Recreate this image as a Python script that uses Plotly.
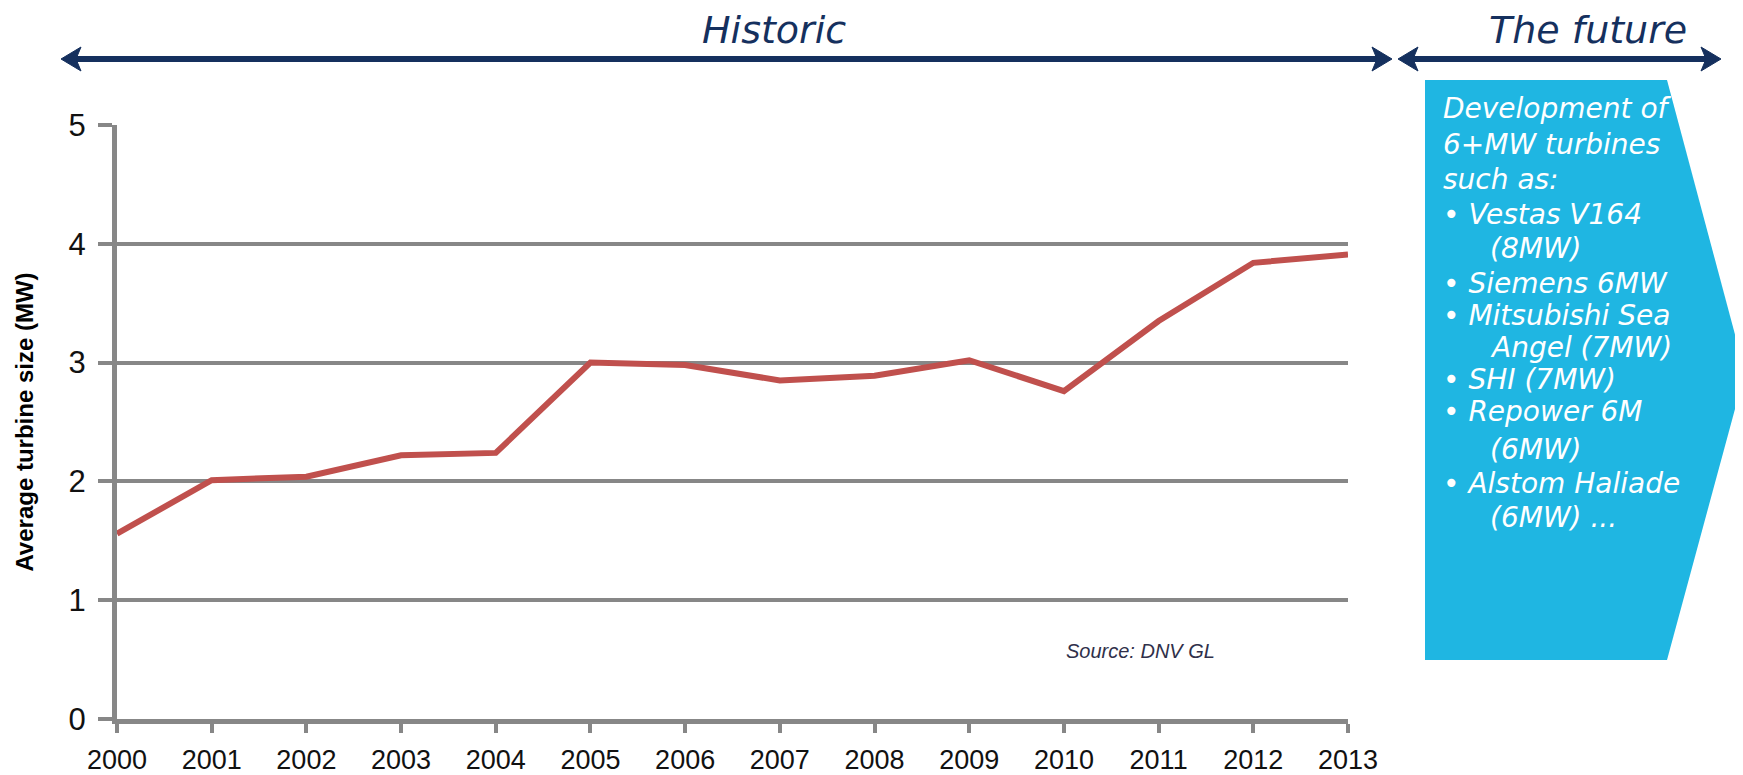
import plotly.graph_objects as go

years = list(range(2000, 2014))
avg_size_mw = [1.56, 2.01, 2.04, 2.22, 2.24, 3.00, 2.98, 2.85, 2.89, 3.02, 2.76, 3.35, 3.84, 3.91]
y_ticks = [0, 1, 2, 3, 4, 5]
box_lines = [
    "Development of",
    "6+MW turbines",
    "such as:",
    "• Vestas V164",
    "(8MW)",
    "• Siemens 6MW",
    "• Mitsubishi Sea",
    "Angel (7MW)",
    "• SHI (7MW)",
    "• Repower 6M",
    "(6MW)",
    "• Alstom Haliade",
    "(6MW) ...",
]
box_line_indented = [False, False, False, False, True, False, False, True, False, False, True, False, True]

# page offset caused by the default 8px body margin
OFF = 8
W, H = 1743 - OFF, 775 - OFF
# plot area in page pixels
L, R, T, B = 117, 1348, 125, 719


def px(x):
    return (x - L) / (R - L)


def py(y):
    return (B - y) / (B - T)


GRID = "#878787"
NAVY = "#15305E"
RED = "#C0504D"
CYAN = "#1FB6E2"

fig = go.Figure()
fig.add_trace(go.Scatter(x=years, y=avg_size_mw, mode="lines",
                         line=dict(color=RED, width=6), hoverinfo="x+y"))

shapes = []
arrow_y = 59
lw = 6


def arrow_line(x0, x1):
    shapes.append(dict(type="line", xref="paper", yref="paper",
                       x0=px(x0), x1=px(x1), y0=py(arrow_y), y1=py(arrow_y),
                       line=dict(color=NAVY, width=lw)))


def head(tip, direction):
    ln, hh, notch = 20, 12, 5
    back = tip - direction * ln
    nx = tip - direction * (ln - notch)
    path = (f"M {px(tip)},{py(arrow_y)} L {px(back)},{py(arrow_y - hh)} "
            f"L {px(nx)},{py(arrow_y)} L {px(back)},{py(arrow_y + hh)} Z")
    shapes.append(dict(type="path", xref="paper", yref="paper", path=path,
                       fillcolor=NAVY, line=dict(color=NAVY, width=1)))


arrow_line(66, 1386)
head(61, -1)
head(1392, 1)
arrow_line(1404, 1715)
head(1398, -1)
head(1721, 1)

# blue chevron box
bx0, by0, bx1, by1, tipx, tipy = 1425, 80, 1667, 660, 1745, 372
path = (f"M {px(bx0)},{py(by0)} L {px(bx1)},{py(by0)} L {px(tipx)},{py(tipy)} "
        f"L {px(bx1)},{py(by1)} L {px(bx0)},{py(by1)} Z")
shapes.append(dict(type="path", xref="paper", yref="paper", path=path,
                   fillcolor=CYAN, line=dict(width=0), layer="below"))

annotations = []
annotations.append(dict(text="<i>Historic</i>", xref="paper", yref="paper",
                        x=px(774), y=py(30), showarrow=False,
                        xanchor="center", yanchor="middle",
                        font=dict(family="DejaVu Sans", size=38, color=NAVY)))
annotations.append(dict(text="<i>The future</i>", xref="paper", yref="paper",
                        x=px(1588), y=py(30), showarrow=False,
                        xanchor="center", yanchor="middle",
                        font=dict(family="DejaVu Sans", size=38, color=NAVY)))

line_y = [109, 145, 180, 214, 248, 283, 315, 347, 379, 411, 449, 483, 517]
for txt, ind, yy in zip(box_lines, box_line_indented, line_y):
    annotations.append(dict(text=f"<i>{txt}</i>", xref="paper", yref="paper",
                            x=px(1488 if ind else 1441), y=py(yy), showarrow=False,
                            xanchor="left", yanchor="middle",
                            font=dict(family="DejaVu Sans", size=28, color="white")))

annotations.append(dict(text="<i>Source: DNV GL</i>", xref="paper", yref="paper",
                        x=px(1064), y=py(651), showarrow=False,
                        xanchor="left", yanchor="middle",
                        font=dict(family="Liberation Sans Narrow, Liberation Sans", size=20,
                                  color="#30304a")))

fig.update_layout(
    width=W, height=H,
    margin=dict(l=L - OFF, r=W - (R - OFF), t=T - OFF, b=H - (B - OFF), autoexpand=False),
    paper_bgcolor="white", plot_bgcolor="white",
    showlegend=False,
    shapes=shapes,
    annotations=annotations,
    xaxis=dict(range=[2000, 2013], tickvals=years, ticktext=[str(y) for y in years],
               showgrid=False, zeroline=False, showline=True, linecolor=GRID, linewidth=5,
               ticks="outside", ticklen=9, tickwidth=4, tickcolor=GRID,
               ticklabelstandoff=4, automargin=False,
               tickfont=dict(family="Liberation Sans Narrow, Liberation Sans", size=27, color="#111"),
               fixedrange=True),
    yaxis=dict(range=[0, 5], tickvals=y_ticks, showgrid=True, gridcolor=GRID, gridwidth=4,
               zeroline=False, showline=True, linecolor=GRID, linewidth=5,
               ticks="outside", ticklen=14, tickwidth=4, tickcolor=GRID,
               ticklabelstandoff=6, automargin=False,
               tickfont=dict(family="Liberation Sans", size=31, color="#111"),
               title=dict(text="<b>Average turbine size (MW)</b>", standoff=30,
                          font=dict(family="Liberation Sans Narrow, Liberation Sans", size=24,
                                    color="#000")),
               fixedrange=True),
)

fig.write_html("out.html")
